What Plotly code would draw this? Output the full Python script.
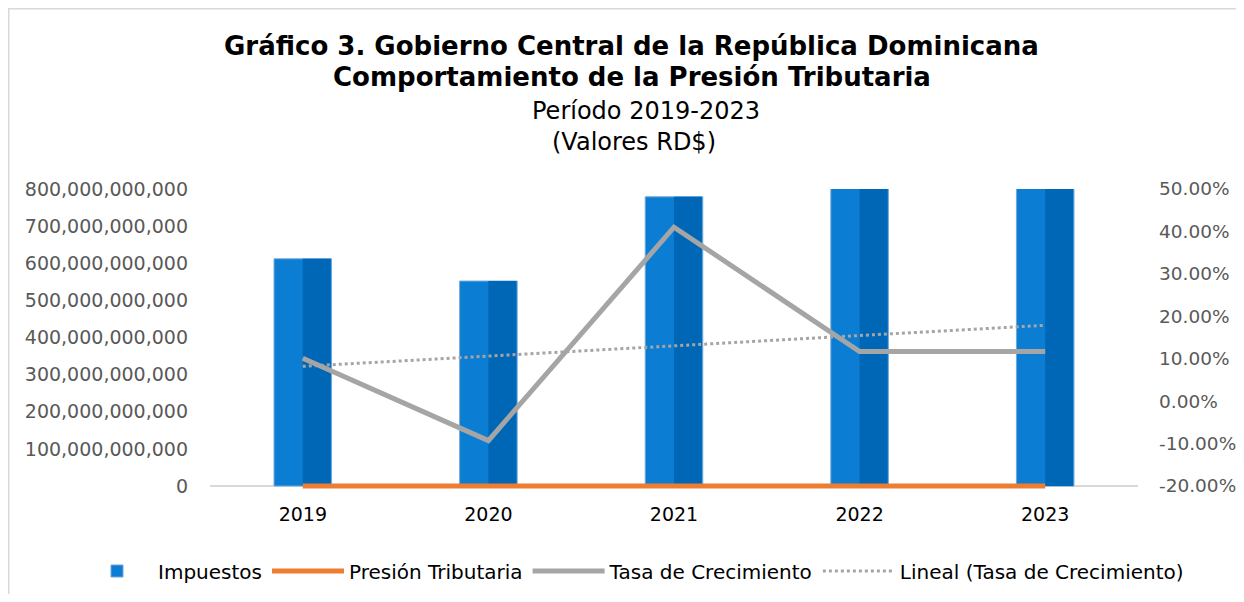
import numpy as np
import plotly.graph_objects as go

years = ["2019", "2020", "2021", "2022", "2023"]
impuestos = [612e9, 552e9, 779e9, 870e9, 970e9]
presion = [0.144, 0.126, 0.142, 0.144, 0.140]
tasa = [0.101, -0.093, 0.410, 0.117, 0.117]
pct_ticks = [-0.2, -0.1, 0.0, 0.1, 0.2, 0.3, 0.4, 0.5]
pct_labels = ["-20.00%", "-10.00%", "0.00%", "10.00%", "20.00%", "30.00%", "40.00%", "50.00%"]

# Excel-style linear trendline of the growth rate
xi = np.arange(1, len(tasa) + 1)
coef = np.polyfit(xi, tasa, 1)
lineal = list(np.polyval(coef, xi))

# page body has an 8px margin; figure sized so it fits the 1244x602 window
OFF = 8
EXT = 4  # extra px below the zero line so the orange line is not clipped
W, H = 1244 - 2 * OFF, 602 - 2 * OFF
L, T = 210 - OFF, 189 - OFF
R, B = W - (1138 - OFF), H - (486 + EXT - OFF)
PW, PH = W - L - R, H - T - B
INNER = PH - EXT  # px from top of plot to the zero line

Y1_MAX = 800e9
Y2_MIN, Y2_MAX = -0.2, 0.5
y1_range = [-EXT / INNER * Y1_MAX, Y1_MAX]
y2_range = [Y2_MIN - EXT / INNER * (Y2_MAX - Y2_MIN), Y2_MAX]


def px(x):  # screen x -> paper
    return (x - OFF - L) / PW


def py(y):  # screen y -> paper
    return (H - B - (y - OFF)) / PH


TICK = "DejaVu Sans"
fig = go.Figure()
fig.add_trace(go.Bar(x=years, y=impuestos, name="Impuestos", width=0.31,
                     marker=dict(color="#0B7DD3", line=dict(color="#6FA8DC", width=1)),
                     yaxis="y"))
fig.add_trace(go.Bar(x=years, y=impuestos, name="Impuestos", width=0.15, offset=0,
                     marker=dict(color="#0067B6", line=dict(width=0)),
                     showlegend=False, hoverinfo="skip", yaxis="y"))
fig.add_trace(go.Scatter(x=years, y=presion, name="Presión Tributaria", mode="lines",
                         line=dict(color="#ED7D31", width=5), yaxis="y"))
fig.add_trace(go.Scatter(x=years, y=tasa, name="Tasa de Crecimiento", mode="lines",
                         line=dict(color="#A5A5A5", width=5), yaxis="y2"))
fig.add_trace(go.Scatter(x=years, y=lineal, name="Lineal (Tasa de Crecimiento)", mode="lines",
                         line=dict(color="#A5A5A5", width=3, dash="dot"), yaxis="y2"))

fig.update_layout(
    width=W, height=H,
    margin=dict(l=L, r=R, t=T, b=B, autoexpand=False),
    paper_bgcolor="white", plot_bgcolor="white",
    barmode="overlay",
    showlegend=True,
    legend=dict(orientation="h", x=px(76), xanchor="left", y=py(571), yanchor="middle",
                font=dict(family=TICK, size=20, color="#000000"), traceorder="normal",
                itemwidth=72),
    xaxis=dict(showgrid=False, showline=False,
               tickfont=dict(family=TICK, size=19, color="#000000"), ticks="",
               ticklabelstandoff=15 - EXT, automargin=False),
    yaxis=dict(range=y1_range, tickmode="array",
               tickvals=[v * 100e9 for v in range(9)], tickformat=",", showgrid=False,
               zeroline=True, zerolinecolor="#D9D9D9", zerolinewidth=2,
               showline=False, ticks="", automargin=False,
               tickfont=dict(family=TICK, size=19, color="#595959"), ticklabelstandoff=21),
    yaxis2=dict(range=y2_range, tickmode="array", tickvals=pct_ticks, ticktext=pct_labels,
                overlaying="y", side="right",
                showgrid=False, zeroline=False, showline=False, ticks="", automargin=False,
                tickfont=dict(family=TICK, size=18.5, color="#595959"), ticklabelstandoff=20),
    font=dict(family=TICK),
)

titles = [
    ("<b>Gráfico 3. Gobierno Central de la República Dominicana</b>", 46, 26, 631),
    ("<b>Comportamiento de la Presión Tributaria</b>", 77, 26, 632),
    ("Período 2019-2023", 111, 24, 646),
    ("(Valores RD$)", 142, 24, 634),
]
for txt, yy, fs, xx in titles:
    fig.add_annotation(text=txt, xref="paper", yref="paper", x=px(xx), y=py(yy),
                       xanchor="center", yanchor="middle", showarrow=False,
                       font=dict(family="DejaVu Sans", size=fs, color="#000000"))

# chart-area frame (top and left edges)
fig.add_shape(type="line", xref="paper", yref="paper", x0=px(OFF), x1=px(1244), y0=py(OFF + 0.5), y1=py(OFF + 0.5),
              line=dict(color="#D9D9D9", width=2))
fig.add_shape(type="line", xref="paper", yref="paper", x0=px(OFF + 0.5), x1=px(OFF + 0.5), y0=py(OFF), y1=py(602),
              line=dict(color="#D9D9D9", width=2))

fig.write_html("out.html")
